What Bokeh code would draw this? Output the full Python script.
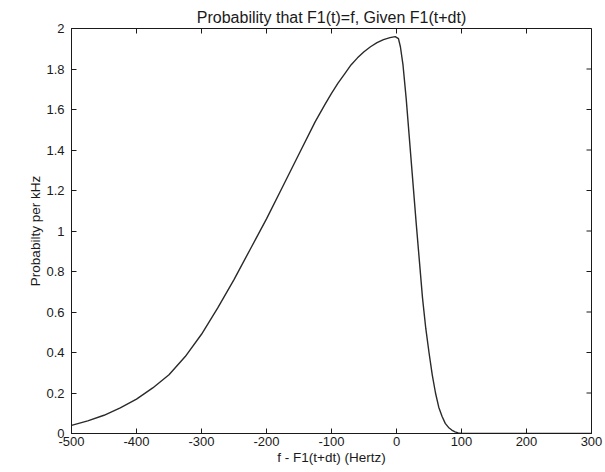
import math
from bokeh.plotting import figure
from bokeh.models import Range1d, FixedTicker
from bokeh.embed import file_html
from bokeh.resources import INLINE

# Data (x in Hz, y in probability per kHz)
freq_offset = [-500, -475, -450, -425, -400, -375, -350, -325, -300, -275, -250,
               -225, -200, -175, -150, -125, -110, -100, -90, -80, -70, -60, -50,
               -40, -30, -20, -10, -2, 3, 6, 10, 15, 20, 25, 30, 35, 40, 45, 50,
               55, 60, 65, 70, 75, 80, 85, 90, 95, 100, 200, 300]
probability = [0.04, 0.062, 0.09, 0.127, 0.17, 0.225, 0.29, 0.38, 0.49, 0.62, 0.76,
               0.91, 1.06, 1.22, 1.38, 1.54, 1.625, 1.68, 1.73, 1.775, 1.82, 1.855, 1.885,
               1.91, 1.93, 1.945, 1.955, 1.96, 1.95, 1.91, 1.82, 1.65, 1.45, 1.25, 1.05,
               0.86, 0.67, 0.52, 0.40, 0.29, 0.20, 0.13, 0.085, 0.05, 0.03, 0.017,
               0.008, 0.003, 0.0, 0.0, 0.0]

x_ticks = [-500, -400, -300, -200, -100, 0, 100, 200, 300]
x_tick_labels = ["-500", "-400", "-300", "-200", "-100", "0", "100", "200", "300"]
y_ticks = [0, 0.2, 0.4, 0.6, 0.8, 1.0, 1.2, 1.4, 1.6, 1.8, 2.0]
y_tick_labels = ["0", "0.2", "0.4", "0.6", "0.8", "1", "1.2", "1.4", "1.6", "1.8", "2"]

FONT = "Liberation Sans"
INK = "#1a1a1a"

p = figure(width=605, height=472, output_backend="svg", toolbar_location=None,
           x_range=Range1d(x_ticks[0], x_ticks[-1]), y_range=Range1d(y_ticks[0], y_ticks[-1]),
           min_border_left=71, min_border_right=14, min_border_top=28, min_border_bottom=39,
           title="Probability that F1(t)=f, Given F1(t+dt)")
p.title.align = "center"
p.title.text_font = FONT
p.title.text_font_size = "16px"
p.title.text_font_style = "normal"
p.title.text_color = INK
p.title.offset = 0
p.title.standoff = 6

p.grid.visible = False
p.outline_line_color = INK
p.outline_line_width = 1
p.background_fill_color = "white"
p.border_fill_color = "white"

p.line(freq_offset, probability, line_color="#2a2a2a", line_width=1.4)

# inward tick marks on the top and right edges (box style)
p.scatter(x=x_ticks, y=[y_ticks[-1]] * len(x_ticks), marker="dash", angle=math.pi / 2,
          size=10, line_color=INK, line_width=1)
p.scatter(x=[x_ticks[-1]] * len(y_ticks), y=y_ticks, marker="dash", angle=0,
          size=10, line_color=INK, line_width=1)

for ax in (p.xaxis[0], p.yaxis[0]):
    ax.major_tick_in = 5
    ax.major_tick_out = 0
    ax.minor_tick_in = 0
    ax.minor_tick_out = 0
    ax.axis_line_color = INK
    ax.major_tick_line_color = INK
    ax.major_label_text_font = FONT
    ax.major_label_text_font_size = "13px"
    ax.major_label_text_color = INK
    ax.axis_label_text_font = FONT
    ax.axis_label_text_font_size = "13.5px"
    ax.axis_label_text_font_style = "normal"
    ax.axis_label_text_color = INK

p.xaxis[0].ticker = FixedTicker(ticks=x_ticks)
p.xaxis[0].major_label_overrides = dict(zip(x_ticks, x_tick_labels))
p.xaxis[0].axis_label = "f - F1(t+dt) (Hertz)"
p.xaxis[0].major_label_standoff = 3
p.xaxis[0].axis_label_standoff = 1

p.yaxis[0].ticker = FixedTicker(ticks=y_ticks)
p.yaxis[0].major_label_overrides = dict(zip(y_ticks, y_tick_labels))
p.yaxis[0].axis_label = "Probabilty per kHz"
p.yaxis[0].major_label_standoff = 7
p.yaxis[0].axis_label_standoff = 0

open("out.html", "w").write(file_html(p, INLINE))
